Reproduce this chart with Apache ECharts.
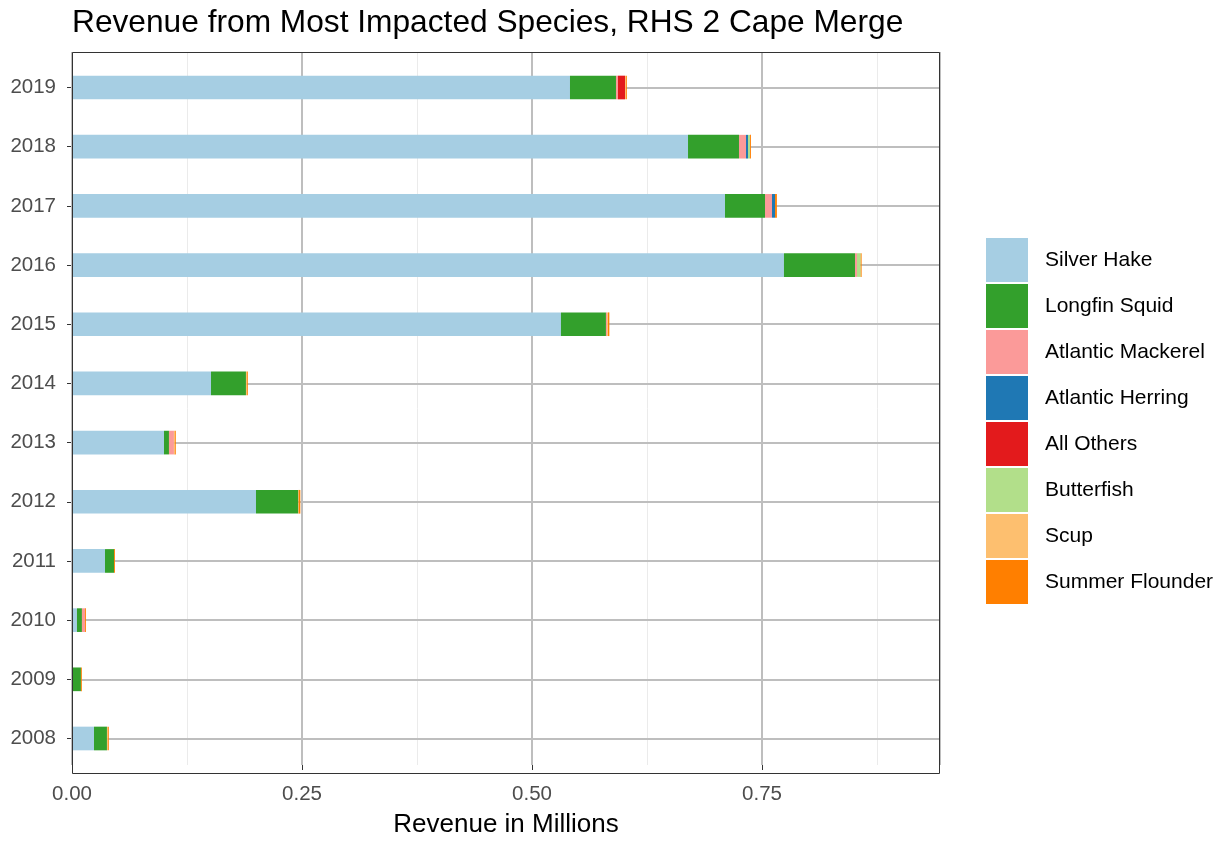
<!DOCTYPE html>
<html>
<head>
<meta charset="utf-8">
<script src="https://cdn.jsdelivr.net/npm/echarts@6/dist/echarts.min.js"></script>
<style>html,body{margin:0;padding:0;background:#fff}#c{width:1223px;height:843px}</style>
</head>
<body>
<div id="c"></div>
<script>
const years = ['2008','2009','2010','2011','2012','2013','2014','2015','2016','2017','2018','2019'];
const silverHake     = [0.0239,0.0010,0.0054,0.0359,0.2000,0.1000,0.1511,0.5315,0.7739,0.7098,0.6696,0.5413];
const longfinSquid   = [0.0141,0.0087,0.0054,0.0098,0.0457,0.0054,0.0380,0.0489,0.0772,0.0435,0.0554,0.0500];
const atlMackerel    = [0,0,0.0033,0,0,0.0054,0,0.0012,0.0022,0.0076,0.0076,0.0022];
const atlHerring     = [0,0,0,0,0,0,0,0,0,0.0033,0.0022,0];
const allOthers      = [0,0,0,0,0,0,0,0,0,0,0,0.0076];
const butterfish     = [0,0,0,0,0.0005,0,0,0,0.0040,0,0.0022,0];
const scup           = [0.0010,0,0,0,0,0.0010,0.0010,0.0010,0,0,0,0.0010];
const summerFlounder = [0.0010,0.0010,0.0010,0.0010,0.0020,0.0010,0.0010,0.0015,0.0010,0.0020,0.0010,0.0010];
const xTicks = ['0.00','0.25','0.50','0.75'];

const seriesDefs = [
  ['Silver Hake', silverHake, '#A6CEE3'],
  ['Longfin Squid', longfinSquid, '#33A02C'],
  ['Atlantic Mackerel', atlMackerel, '#FB9A99'],
  ['Atlantic Herring', atlHerring, '#1F78B4'],
  ['All Others', allOthers, '#E31A1C'],
  ['Butterfish', butterfish, '#B2DF8A'],
  ['Scup', scup, '#FDBF6F'],
  ['Summer Flounder', summerFlounder, '#FF7F00']
];

const XMAX = 0.9435;
const L = 72, T = 52, W = 868, H = 722;
const unit = H / 12.2;
const font = 'Liberation Sans, Arial, sans-serif';

const chart = echarts.init(document.getElementById('c'), null, {renderer: 'canvas'});
chart.setOption({
  animation: false,
  backgroundColor: '#fff',
  title: {
    text: 'Revenue from Most Impacted Species, RHS 2 Cape Merge',
    left: 67, top: 2, padding: [5,5,5,5],
    textStyle: {fontFamily: font, fontSize: 31.7, fontWeight: 'normal', color: '#000'}
  },
  legend: {
    orient: 'vertical', left: 986, top: 238, padding: 0,
    itemWidth: 42, itemHeight: 44, itemGap: 2, icon: 'rect',
    textStyle: {fontFamily: font, fontSize: 21, color: '#000', padding: [0,0,0,12]},
    data: seriesDefs.map(d => d[0])
  },
  grid: [
    {left: L, top: T, width: W, height: H, show: false},
    {left: L, top: T + 0.1 * unit, width: W, height: H - 0.2 * unit, show: false},
    {left: L, top: T + 0.6 * unit, width: W, height: H - 1.2 * unit, show: false}
  ],
  xAxis: [
    {type: 'value', gridIndex: 0, min: 0, max: XMAX, interval: 0.25, position: 'bottom', z: 2,
     axisLine: {show: false, onZero: false},
     axisTick: {show: true, length: 5, lineStyle: {color: '#333'}},
     axisLabel: {fontFamily: font, fontSize: 20.5, color: '#4D4D4D', margin: 19, showMaxLabel: false,
       formatter: v => { const i = Math.round(v / 0.25); return Math.abs(v - i*0.25) < 1e-9 ? xTicks[i] : ''; }},
     splitLine: {show: true, lineStyle: {color: '#BEBEBE', width: 2}},
     name: 'Revenue in Millions', nameLocation: 'middle', nameGap: 47,
     nameTextStyle: {fontFamily: font, fontSize: 26, color: '#000'}
    },
    {type: 'value', gridIndex: 0, min: 0, max: XMAX, interval: 0.125, position: 'top', z: 1,
     axisLine: {show: false, onZero: false}, axisTick: {show: false}, axisLabel: {show: false},
     splitLine: {show: true, lineStyle: {color: '#EBEBEB', width: 1}}
    },
    {type: 'value', gridIndex: 1, min: 0, max: XMAX, show: false},
    {type: 'value', gridIndex: 2, min: 0, max: XMAX, show: false}
  ],
  yAxis: [
    {type: 'value', gridIndex: 0, min: 0, max: 1, show: false},
    {type: 'category', gridIndex: 1, data: years, boundaryGap: true,
     axisLine: {show: false, onZero: false},
     axisTick: {show: true, alignWithLabel: true, length: 5, lineStyle: {color: '#333'}},
     axisLabel: {fontFamily: font, fontSize: 20.5, color: '#4D4D4D', margin: 16},
     splitLine: {show: false}
    },
    {type: 'category', gridIndex: 2, data: years, boundaryGap: false, z: 2,
     axisLine: {show: false, onZero: false}, axisTick: {show: false}, axisLabel: {show: false},
     splitLine: {show: true, lineStyle: {color: '#BEBEBE', width: 2}}
    }
  ],
  graphic: [{
    type: 'rect', z: 100, silent: true,
    shape: {x: L + 0.5, y: T + 0.5, width: W - 1, height: H - 1},
    style: {fill: 'none', stroke: '#333', lineWidth: 1}
  }],
  series: seriesDefs.map(d => ({
    name: d[0], type: 'bar', stack: 'rev', xAxisIndex: 2, yAxisIndex: 1,
    barWidth: '40%', data: d[1], itemStyle: {color: d[2]},
    emphasis: {disabled: true}
  }))
});
</script>
</body>
</html>
